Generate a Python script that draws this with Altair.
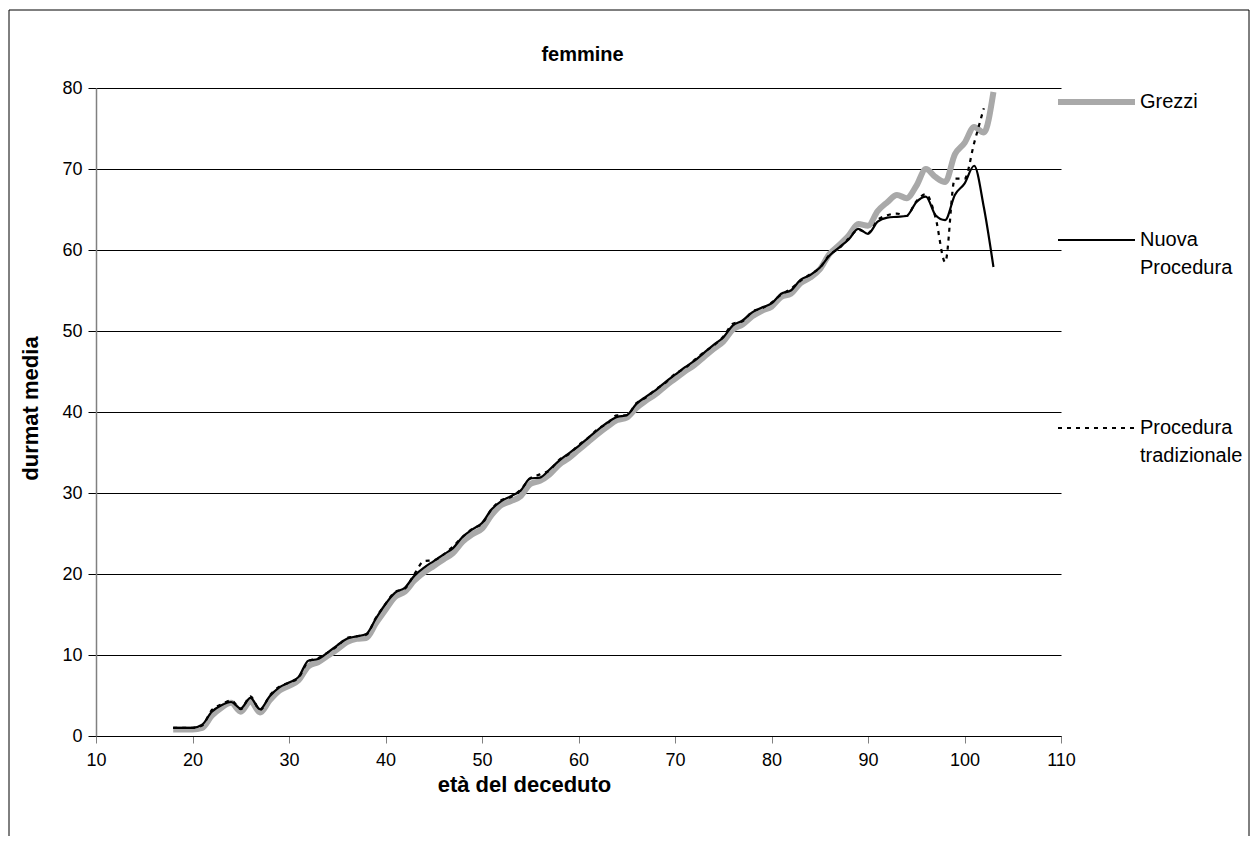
import altair as alt
import pandas as pd

# ---------------- data ----------------
ages_grezzi = list(range(18, 104))
grezzi = [0.8, 0.8, 0.8, 1.0, 2.5, 3.5, 4.1, 3.0, 4.3, 2.9,
          4.4, 5.6, 6.2, 6.9, 8.6, 9.1, 9.9, 10.7, 11.6, 12.0,
          12.1, 13.9, 15.6, 17.2, 17.8, 19.2, 20.2, 21.0, 21.8, 22.6,
          24.0, 24.9, 25.6, 27.3, 28.5, 29.0, 29.6, 31.1, 31.5, 32.3,
          33.5, 34.3, 35.3, 36.3, 37.3, 38.2, 39.0, 39.3, 40.5, 41.4,
          42.2, 43.2, 44.1, 45.0, 45.8, 46.8, 47.8, 48.7, 50.2, 50.8,
          51.8, 52.5, 53.0, 54.2, 54.6, 55.9, 56.6, 57.6, 59.5, 60.6,
          61.8, 63.2, 63.0, 64.8, 65.9, 66.8, 66.4, 67.9, 70.0, 69.0,
          68.4, 71.8, 73.2, 75.2, 74.5, 79.5]

ages_nuova = list(range(18, 104))
nuova = [1.0, 1.0, 1.0, 1.4, 3.0, 3.8, 4.2, 3.4, 4.7, 3.3,
         4.9, 6.0, 6.6, 7.3, 9.3, 9.5, 10.3, 11.2, 12.0, 12.3,
         12.6, 14.5, 16.3, 17.7, 18.3, 19.8, 20.8, 21.6, 22.4, 23.2,
         24.6, 25.5, 26.3, 28.0, 29.0, 29.6, 30.3, 31.8, 31.9, 32.9,
         34.0, 34.9, 35.8, 36.8, 37.8, 38.7, 39.4, 39.6, 41.0, 41.9,
         42.7, 43.7, 44.6, 45.5, 46.3, 47.3, 48.3, 49.2, 50.7, 51.3,
         52.3, 52.9, 53.4, 54.6, 55.0, 56.3, 56.9, 57.8, 59.3, 60.3,
         61.3, 62.6, 62.0, 63.5, 64.0, 64.1, 64.2, 65.9, 66.6, 64.3,
         63.7, 66.8, 68.2, 70.4, 65.3, 57.9]

ages_trad = list(range(18, 103))
trad = [1.0, 1.0, 1.0, 1.3, 3.2, 3.9, 4.4, 3.3, 4.9, 3.2,
        5.0, 6.1, 6.6, 7.2, 9.2, 9.6, 10.3, 11.1, 12.1, 12.3,
        12.5, 14.6, 16.3, 17.8, 18.2, 20.0, 21.6, 21.7, 22.4, 23.4,
        24.6, 25.6, 26.2, 28.0, 29.1, 29.5, 30.4, 31.8, 32.3, 32.8,
        34.1, 34.8, 35.9, 36.8, 37.9, 38.6, 39.6, 39.6, 41.1, 41.8,
        42.8, 43.6, 44.7, 45.4, 46.4, 47.4, 48.2, 49.3, 50.9, 51.2,
        52.4, 52.8, 53.5, 54.5, 55.2, 56.2, 57.0, 57.8, 59.4, 60.2,
        61.4, 62.5, 62.1, 63.7, 64.3, 64.5, 64.2, 66.0, 66.9, 64.0,
        58.5, 68.8, 68.8, 73.2, 77.5]

x_ticks = [10, 20, 30, 40, 50, 60, 70, 80, 90, 100, 110]
y_ticks = [0, 10, 20, 30, 40, 50, 60, 70, 80]

df_g = pd.DataFrame({"eta": ages_grezzi, "durmat": grezzi})
df_n = pd.DataFrame({"eta": ages_nuova, "durmat": nuova})
df_t = pd.DataFrame({"eta": ages_trad, "durmat": trad})
one = pd.DataFrame({"k": [0]})

FONT = "Liberation Sans"
W, H = 965, 648

X = alt.X("eta:Q",
          scale=alt.Scale(domain=[10, 110], nice=False, zero=False),
          axis=alt.Axis(values=x_ticks, title="età del deceduto", grid=False,
                        domainColor="black", domainWidth=1,
                        tickColor="#808080", tickSize=7, tickWidth=1,
                        labelFontSize=18, labelPadding=8, labelColor="black",
                        labelFlush=False, labelFont=FONT,
                        titleFontSize=22, titleFontWeight="bold", titleColor="black",
                        titleFont=FONT, titleX=428, titleY=48, titleAlign="center",
                        titleBaseline="middle"))
Y = alt.Y("durmat:Q",
          scale=alt.Scale(domain=[0, 80], nice=False, zero=True),
          axis=alt.Axis(values=y_ticks, title="durmat media", grid=True,
                        gridColor="black", gridWidth=1,
                        domainColor="#808080", domainWidth=1.5,
                        tickColor="black", tickSize=8, tickWidth=1,
                        labelFontSize=18, labelPadding=6, labelColor="black",
                        labelFont=FONT,
                        titleFontSize=22, titleFontWeight="bold", titleColor="black",
                        titleFont=FONT, titleX=-66, titleY=H / 2 - 4,
                        titleBaseline="middle", titleAngle=270))

border = alt.Chart(one).mark_rect(fill="white", fillOpacity=0, stroke="black",
                                   strokeWidth=1).encode(
    x=alt.value(-87), x2=alt.value(1153), y=alt.value(-78), y2=alt.value(752))

grez_line = alt.Chart(df_g).mark_line(color="#a9a9a9", strokeWidth=6,
                                      interpolate="monotone").encode(x=X, y=Y)
nuova_line = alt.Chart(df_n).mark_line(color="black", strokeWidth=2.2,
                                       interpolate="monotone").encode(x=X, y=Y)
trad_line = alt.Chart(df_t).mark_line(color="black", strokeWidth=2.2, strokeDash=[4, 5],
                                      interpolate="monotone").encode(x=X, y=Y)

title = alt.Chart(one).mark_text(text="femmine", font=FONT, fontSize=20, fontWeight="bold",
                                 align="center", baseline="middle", color="black").encode(
    x=alt.value(W / 2 + 4), y=alt.value(-33))

# manual legend (right of plot)
LX1, LX2, TX = 962, 1039, 1044
leg = []
leg.append(alt.Chart(one).mark_rule(color="#a9a9a9", strokeWidth=6).encode(
    x=alt.value(LX1), x2=alt.value(LX2), y=alt.value(14)))
leg.append(alt.Chart(one).mark_rule(color="black", strokeWidth=2).encode(
    x=alt.value(LX1), x2=alt.value(LX2), y=alt.value(152)))
leg.append(alt.Chart(one).mark_rule(color="black", strokeWidth=2, strokeDash=[4, 5]).encode(
    x=alt.value(LX1), x2=alt.value(LX2), y=alt.value(340)))
for txt, yy in [("Grezzi", 14), ("Nuova", 152), ("Procedura", 180),
                ("Procedura", 340), ("tradizionale", 368)]:
    leg.append(alt.Chart(one).mark_text(text=txt, font=FONT, fontSize=20, align="left",
                                        baseline="middle", color="black").encode(
        x=alt.value(TX), y=alt.value(yy)))

chart = alt.layer(border, grez_line, nuova_line, trad_line, title, *leg).properties(
    width=W, height=H,
    autosize=alt.AutoSizeParams(type="none"),
    padding={"left": 88, "top": 80, "right": 190, "bottom": 100},
    background="white",
).configure_view(stroke="transparent")

chart.save("out.html", embed_options={"renderer": "svg", "actions": False})
